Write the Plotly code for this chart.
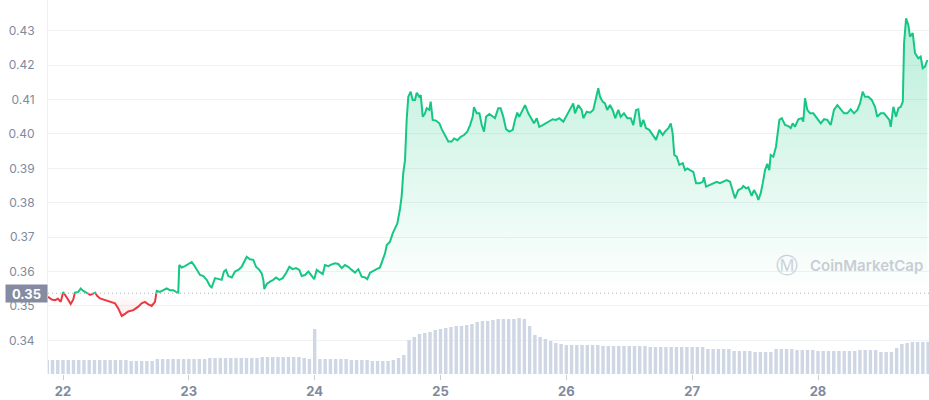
import plotly.graph_objects as go

# ---------------- data ----------------
days = [
    21.881, 21.910, 21.936, 21.960, 21.982, 22.002, 22.024, 22.040, 22.061, 22.082,
    22.095, 22.122, 22.141, 22.161, 22.188, 22.215, 22.236, 22.254, 22.273, 22.294,
    22.334, 22.373, 22.413, 22.439, 22.467, 22.493, 22.519, 22.559, 22.598, 22.625,
    22.651, 22.678, 22.705, 22.731, 22.745, 22.771, 22.797, 22.824, 22.850, 22.877,
    22.898, 22.916, 22.924, 22.943, 22.969, 22.996, 23.023, 23.041, 23.062, 23.089,
    23.115, 23.142, 23.168, 23.182, 23.208, 23.234, 23.261, 23.279, 23.295, 23.314,
    23.341, 23.367, 23.393, 23.420, 23.446, 23.460, 23.486, 23.512, 23.534, 23.560,
    23.579, 23.592, 23.600, 23.619, 23.645, 23.671, 23.693, 23.719, 23.746, 23.772,
    23.799, 23.825, 23.852, 23.878, 23.897, 23.923, 23.950, 23.976, 23.997, 24.016,
    24.042, 24.064, 24.082, 24.108, 24.135, 24.162, 24.188, 24.215, 24.241, 24.267,
    24.294, 24.321, 24.347, 24.374, 24.400, 24.418, 24.440, 24.466, 24.493, 24.519,
    24.541, 24.559, 24.573, 24.599, 24.620, 24.638, 24.657, 24.678, 24.691, 24.704,
    24.718, 24.731, 24.744, 24.763, 24.779, 24.797, 24.811, 24.832, 24.843, 24.859,
    24.877, 24.890, 24.911, 24.922, 24.938, 24.964, 24.991, 25.010, 25.036, 25.062,
    25.089, 25.108, 25.134, 25.161, 25.187, 25.213, 25.235, 25.256, 25.266, 25.288,
    25.309, 25.328, 25.346, 25.362, 25.388, 25.415, 25.433, 25.459, 25.478, 25.499,
    25.521, 25.547, 25.574, 25.592, 25.610, 25.626, 25.653, 25.672, 25.698, 25.725,
    25.743, 25.765, 25.785, 25.812, 25.839, 25.865, 25.892, 25.918, 25.944, 25.976,
    26.003, 26.029, 26.055, 26.069, 26.095, 26.122, 26.135, 26.162, 26.188, 26.214,
    26.241, 26.254, 26.268, 26.289, 26.307, 26.325, 26.347, 26.368, 26.389, 26.413,
    26.432, 26.458, 26.485, 26.512, 26.532, 26.554, 26.572, 26.591, 26.612, 26.633,
    26.659, 26.686, 26.713, 26.739, 26.766, 26.784, 26.811, 26.830, 26.845, 26.858,
    26.877, 26.898, 26.925, 26.943, 26.961, 26.983, 27.009, 27.031, 27.057, 27.084,
    27.094, 27.110, 27.136, 27.168, 27.195, 27.221, 27.247, 27.274, 27.301, 27.322,
    27.340, 27.366, 27.394, 27.406, 27.428, 27.446, 27.473, 27.491, 27.513, 27.526,
    27.545, 27.561, 27.579, 27.597, 27.613, 27.624, 27.645, 27.666, 27.677, 27.693,
    27.712, 27.738, 27.764, 27.783, 27.799, 27.817, 27.844, 27.870, 27.883, 27.897,
    27.915, 27.937, 27.963, 27.990, 28.022, 28.048, 28.074, 28.101, 28.127, 28.154,
    28.181, 28.207, 28.233, 28.260, 28.286, 28.313, 28.334, 28.355, 28.374, 28.400,
    28.427, 28.453, 28.471, 28.498, 28.525, 28.546, 28.567, 28.578, 28.599, 28.620,
    28.639, 28.658, 28.674, 28.684, 28.700, 28.718, 28.731, 28.753, 28.771, 28.797,
    28.816, 28.832, 28.850, 28.869,
]

prices = [
    0.3527, 0.3519, 0.3517, 0.3521, 0.3512, 0.3541, 0.3526, 0.3519, 0.3506, 0.3519,
    0.3539, 0.3541, 0.3551, 0.3544, 0.3539, 0.3532, 0.3535, 0.3539, 0.3529, 0.3522,
    0.3517, 0.3512, 0.3508, 0.3493, 0.3471, 0.3477, 0.3484, 0.3488, 0.3498, 0.3508,
    0.3512, 0.3505, 0.3500, 0.3512, 0.3544, 0.3541, 0.3546, 0.3551, 0.3546, 0.3546,
    0.3541, 0.3539, 0.3619, 0.3612, 0.3616, 0.3622, 0.3628, 0.3619, 0.3605, 0.3590,
    0.3587, 0.3576, 0.3558, 0.3554, 0.3581, 0.3578, 0.3576, 0.3600, 0.3605, 0.3587,
    0.3583, 0.3600, 0.3605, 0.3614, 0.3634, 0.3643, 0.3636, 0.3634, 0.3614, 0.3605,
    0.3595, 0.3576, 0.3549, 0.3564, 0.3571, 0.3576, 0.3583, 0.3576, 0.3581, 0.3595,
    0.3614, 0.3607, 0.3610, 0.3605, 0.3587, 0.3590, 0.3600, 0.3587, 0.3578, 0.3605,
    0.3597, 0.3593, 0.3619, 0.3616, 0.3621, 0.3624, 0.3622, 0.3610, 0.3619, 0.3614,
    0.3605, 0.3597, 0.3607, 0.3585, 0.3583, 0.3578, 0.3597, 0.3603, 0.3607, 0.3612,
    0.3634, 0.3653, 0.3677, 0.3687, 0.3711, 0.3723, 0.3740, 0.3782, 0.3818, 0.3886,
    0.3924, 0.4041, 0.4108, 0.4123, 0.4099, 0.4099, 0.4120, 0.4108, 0.4113, 0.4050,
    0.4060, 0.4075, 0.4070, 0.4094, 0.4041, 0.4039, 0.4031, 0.4014, 0.3997, 0.3978,
    0.3978, 0.3987, 0.3982, 0.3992, 0.3997, 0.4007, 0.4026, 0.4050, 0.4078, 0.4060,
    0.4060, 0.4026, 0.4007, 0.4050, 0.4058, 0.4050, 0.4046, 0.4075, 0.4075, 0.4050,
    0.4014, 0.4007, 0.4012, 0.4041, 0.4062, 0.4050, 0.4070, 0.4084, 0.4060, 0.4041,
    0.4031, 0.4046, 0.4021, 0.4026, 0.4031, 0.4036, 0.4043, 0.4041, 0.4046, 0.4036,
    0.4055, 0.4070, 0.4089, 0.4060, 0.4084, 0.4070, 0.4046, 0.4065, 0.4062, 0.4070,
    0.4108, 0.4133, 0.4108, 0.4094, 0.4089, 0.4070, 0.4084, 0.4070, 0.4046, 0.4070,
    0.4050, 0.4060, 0.4046, 0.4046, 0.4026, 0.4070, 0.4072, 0.4021, 0.4041, 0.4017,
    0.4012, 0.3997, 0.3983, 0.4012, 0.3997, 0.4007, 0.4017, 0.4031, 0.4002, 0.3939,
    0.3934, 0.3910, 0.3915, 0.3895, 0.3900, 0.3895, 0.3890, 0.3857, 0.3857, 0.3861,
    0.3874, 0.3847, 0.3852, 0.3857, 0.3861, 0.3857, 0.3861, 0.3866, 0.3861, 0.3837,
    0.3813, 0.3837, 0.3842, 0.3849, 0.3842, 0.3845, 0.3820, 0.3837, 0.3823, 0.3808,
    0.3828, 0.3857, 0.3895, 0.3913, 0.3895, 0.3939, 0.3934, 0.3963, 0.4002, 0.4041,
    0.4046, 0.4026, 0.4023, 0.4017, 0.4031, 0.4021, 0.4043, 0.4046, 0.4036, 0.4104,
    0.4070, 0.4060, 0.4060, 0.4046, 0.4031, 0.4043, 0.4041, 0.4026, 0.4070, 0.4084,
    0.4070, 0.4060, 0.4060, 0.4072, 0.4060, 0.4070, 0.4089, 0.4123, 0.4108, 0.4108,
    0.4099, 0.4079, 0.4050, 0.4060, 0.4060, 0.4050, 0.4041, 0.4021, 0.4079, 0.4050,
    0.4075, 0.4079, 0.4094, 0.4264, 0.4336, 0.4317, 0.4283, 0.4293, 0.4235, 0.4220,
    0.4225, 0.4191, 0.4196, 0.4215,
]

# hourly volume bars (first bar at 21:00 on the 21st), arbitrary units
volume_start_hour = -3
volumes = [
    140, 140, 140, 140, 140, 140, 140, 140, 140, 140, 140,
    140, 140, 140, 140, 140, 130, 130, 130, 130, 130,
    150, 150, 150, 150, 150, 150, 150, 150, 150, 150,
    160, 160, 160, 160, 160, 160, 160, 160, 160, 160,
    170, 170, 170, 170, 170, 170, 170, 170, 160, 150,
    450,
    150, 150, 150, 150, 150, 150, 140, 140, 140, 140, 130, 130, 130, 130,
    140, 160, 190, 340, 370, 400, 410, 420, 440, 450, 460, 470, 480, 480,
    490, 500, 520, 530, 530, 540, 550, 550, 550, 550, 560, 550, 480, 390,
    370, 350, 330, 310, 300, 290, 290, 290, 290, 290, 290, 290,
    280, 280, 280, 280, 280, 280, 280, 280, 280,
    270, 270, 270, 270, 270, 270, 270, 270, 270, 270, 270,
    250, 250, 250, 250, 250, 230, 230, 230, 230, 220, 220, 220, 220,
    250, 250, 250, 250, 240, 240, 240, 240,
    230, 230, 230, 230, 230, 230, 230, 230, 240, 240, 240, 240,
    220, 220, 220, 260, 300, 310, 320, 320, 320, 320,
]

base_price = 0.3537          # opening price (dotted reference line)
base_label = "0.35"
y_ticks = [0.34, 0.35, 0.36, 0.37, 0.38, 0.39, 0.40, 0.41, 0.42, 0.43]
x_ticks = [22, 23, 24, 25, 26, 27, 28]
x_tick_labels = ["22", "23", "24", "25", "26", "27", "28"]

# ---------------- styling ----------------
GREEN = "#16c784"
RED = "#ea3943"
GRID = "#eff2f5"
TICK = "#808a9d"
FONT = "Inter"

# split the price line into parts above / below the opening price
ax, ay = [days[0]], [prices[0]]
for i in range(1, len(days)):
    x0, y0, x1, y1 = days[i - 1], prices[i - 1], days[i], prices[i]
    if (y0 - base_price) * (y1 - base_price) < 0:
        t = (base_price - y0) / (y1 - y0)
        ax.append(x0 + t * (x1 - x0))
        ay.append(base_price)
    ax.append(x1)
    ay.append(y1)

green_line = [y if y >= base_price else None for y in ay]
red_line = [y if y <= base_price else None for y in ay]
green_fill = [max(y, base_price) for y in ay]
red_fill = [min(y, base_price) for y in ay]
base_series = [base_price] * len(ax)

vol_days = [22 + (volume_start_hour + k) / 24 for k in range(len(volumes))]

fig = go.Figure()

# volume (secondary, hidden axis)
fig.add_trace(go.Bar(
    x=vol_days, y=volumes, yaxis="y2",
    width=[0.65 / 24] * len(volumes),
    marker=dict(color="#cfd6e4", line=dict(width=0)),
    hoverinfo="skip",
))

# green fill
fig.add_trace(go.Scatter(x=ax, y=base_series, mode="lines",
                         line=dict(width=0, color="rgba(0,0,0,0)"), hoverinfo="skip"))
fig.add_trace(go.Scatter(
    x=ax, y=green_fill, mode="lines", line=dict(width=0, color="rgba(0,0,0,0)"),
    fill="tonexty",
    fillgradient=dict(type="vertical", start=base_price, stop=0.434,
                      colorscale=[[0, "rgba(22,199,132,0.0)"], [1, "rgba(22,199,132,0.30)"]]),
    hoverinfo="skip",
))
# red fill
fig.add_trace(go.Scatter(x=ax, y=base_series, mode="lines",
                         line=dict(width=0, color="rgba(0,0,0,0)"), hoverinfo="skip"))
fig.add_trace(go.Scatter(
    x=ax, y=red_fill, mode="lines", line=dict(width=0, color="rgba(0,0,0,0)"),
    fill="tonexty",
    fillgradient=dict(type="vertical", start=0.3465, stop=base_price,
                      colorscale=[[0, "rgba(234,57,67,0.12)"], [1, "rgba(234,57,67,0.0)"]]),
    hoverinfo="skip",
))

# price lines
fig.add_trace(go.Scatter(x=ax, y=red_line, mode="lines",
                         line=dict(color=RED, width=2), connectgaps=False))
fig.add_trace(go.Scatter(x=ax, y=green_line, mode="lines",
                         line=dict(color=GREEN, width=2), connectgaps=False))

x_min = x_ticks[0] - 15 / 125.83
x_max = x_ticks[-1] + 111 / 125.83

fig.update_layout(
    width=929, height=400,
    margin=dict(l=48, r=0, t=0, b=26),
    paper_bgcolor="white", plot_bgcolor="white",
    showlegend=False,
    hovermode=False,
    font=dict(family=FONT, color=TICK),
    xaxis=dict(
        range=[x_min, x_max], tickvals=x_ticks, ticktext=x_tick_labels,
        showgrid=False, zeroline=False, showline=False,
        ticks="outside", ticklen=5, tickcolor="#c8ced8",
        tickfont=dict(family=FONT, size=13, color=TICK, weight="bold"),
    ),
    yaxis=dict(
        range=[0.33023, 0.43895], tickvals=y_ticks, tickformat=".2f",
        gridcolor=GRID, gridwidth=1, zeroline=False,
        showline=True, linecolor=GRID, linewidth=1,
        ticks="", ticklabelstandoff=10,
        tickfont=dict(family=FONT, size=12, color=TICK),
    ),
    yaxis2=dict(overlaying="y", range=[0, 3740], visible=False),
    shapes=[dict(
        type="line", xref="paper", x0=0, x1=1, yref="y",
        y0=base_price, y1=base_price,
        line=dict(color="#a6b0c3", width=1, dash="1px,3px"),
    )],
    annotations=[
        dict(xref="paper", x=0, xanchor="right", yref="y", y=base_price,
             text="<b>" + base_label + "</b>", showarrow=False,
             bgcolor="#858ca2", width=37, height=13, borderpad=2,
             font=dict(family=FONT, size=13, color="white")),
        dict(xref="paper", x=0.839, xanchor="center", yref="paper", y=0.291,
             yanchor="middle", text="Ⓜ", showarrow=False,
             font=dict(family="DejaVu Sans", size=22, color="#cbd0d8")),
        dict(xref="paper", x=0.8627, xanchor="left", yref="paper", y=0.291,
             yanchor="middle", text="CoinMarketCap", showarrow=False,
             font=dict(family=FONT, size=15, color="#c8cdd5", weight=600)),
    ],
)

fig.write_html("out.html", config={"displayModeBar": False},
               post_script="document.body.style.margin='0';")
